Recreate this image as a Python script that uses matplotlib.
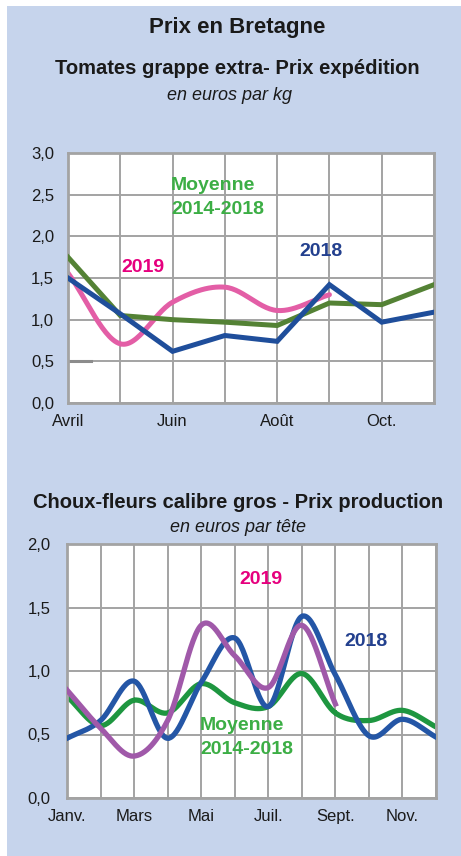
import numpy as np
import matplotlib
matplotlib.use('Agg')
from matplotlib import pyplot as plt
from matplotlib.patches import Rectangle

plt.rcParams['font.family'] = ['Liberation Sans', 'DejaVu Sans']

# Tomates - months avril..novembre
tom_months = ['Avril', '', 'Juin', '', 'Août', '', 'Oct.', '']
tom_moy = [1.75, 1.05, 1.00, 0.97, 0.93, 1.20, 1.18, 1.42]
tom_2018 = [1.50, 1.07, 0.62, 0.81, 0.74, 1.42, 0.97, 1.09]
tom_2019 = [1.56, 0.71, 1.21, 1.39, 1.11, 1.30]

# Choux-fleurs - months janvier..decembre
chou_months = ['Janv.', '', 'Mars', '', 'Mai', '', 'Juil.', '', 'Sept.', '', 'Nov.', '']
chou_moy = [0.80, 0.57, 0.77, 0.67, 0.90, 0.75, 0.72, 0.98, 0.67, 0.61, 0.69, 0.56]
chou_2018 = [0.47, 0.61, 0.92, 0.47, 0.91, 1.26, 0.72, 1.43, 0.97, 0.49, 0.62, 0.48]
chou_2019 = [0.85, 0.55, 0.33, 0.61, 1.36, 1.12, 0.87, 1.36, 0.74]

bg = '#c6d4ec'
grid_col = '#a3a3a3'
W, H = 461, 856


def smooth(y, n=30):
    # Catmull-Rom like Excel smoothed lines
    x = np.arange(len(y), dtype=float)
    y = np.asarray(y, dtype=float)
    px = np.concatenate([[2 * x[0] - x[1]], x, [2 * x[-1] - x[-2]]])
    py = np.concatenate([[2 * y[0] - y[1]], y, [2 * y[-1] - y[-2]]])
    xs, ys = [], []
    t = np.linspace(0, 1, n)
    for i in range(1, len(px) - 2):
        for p, out in ((px, xs), (py, ys)):
            p0, p1, p2, p3 = p[i - 1], p[i], p[i + 1], p[i + 2]
            out.extend(0.5 * ((2 * p1) + (-p0 + p2) * t
                              + (2 * p0 - 5 * p1 + 4 * p2 - p3) * t ** 2
                              + (-p0 + 3 * p1 - 3 * p2 + p3) * t ** 3))
    return np.array(xs), np.array(ys)


def px_axes(fig, left, top, right, bottom):
    return fig.add_axes([left / W, 1 - bottom / H, (right - left) / W, (bottom - top) / H])


def style(ax, months, ymax, ypad):
    ax.set_facecolor('white')
    ax.set_xlim(0, len(months) - 1)
    ax.set_ylim(0, ymax)
    ax.set_xticks(range(len(months)))
    ax.set_xticklabels(months)
    yt = np.arange(0, ymax + 0.01, 0.5)
    ax.set_yticks(yt)
    ax.set_yticklabels(['{:.1f}'.format(v).replace('.', ',') for v in yt])
    ax.tick_params(length=0, labelsize=12, colors='#1a1a1a')
    ax.tick_params(axis='y', pad=ypad)
    ax.tick_params(axis='x', pad=8)
    ax.grid(True, color=grid_col, lw=1.4)
    ax.set_axisbelow(True)
    for s in ax.spines.values():
        s.set_color(grid_col)
        s.set_linewidth(2)


fig = plt.figure(figsize=(W / 100, H / 100), dpi=100)
fig.patch.set_facecolor('white')
fig.patches.append(Rectangle((7 / W, 0), 1 - 7 / W, 1 - 6 / H, transform=fig.transFigure,
                             facecolor=bg, edgecolor='none', zorder=-10))

def ftext(x, y, s, **kw):
    fig.text(x / W, 1 - y / H, s, **kw)

ftext(237, 28, 'Prix en Bretagne', ha='center', va='center', fontsize=16, fontweight='bold', color='#1a1a1a')
ftext(237, 69, 'Tomates grappe extra- Prix expédition', ha='center', va='center', fontsize=14.5,
      fontweight='bold', color='#1a1a1a')
ftext(229, 95, 'en euros par kg', ha='center', va='center', fontsize=13, style='italic', color='#1a1a1a')
ftext(238, 503, 'Choux-fleurs calibre gros - Prix production', ha='center', va='center', fontsize=14.5,
      fontweight='bold', color='#1a1a1a')
ftext(238, 528, 'en euros par tête', ha='center', va='center', fontsize=13, style='italic', color='#1a1a1a')

# top chart
ax1 = px_axes(fig, 68, 153, 434, 403)
style(ax1, tom_months, 3.0, 10)
ax1.axhline(0.5, xmin=0, xmax=0.063, color='#8c8c8c', lw=2.2)
x = np.arange(len(tom_moy))
ax1.plot(x, tom_moy, color='#548235', lw=3.6, solid_joinstyle='miter', zorder=3)
ax1.plot(x, tom_2018, color='#1f4e9b', lw=3.6, solid_joinstyle='miter', zorder=4)
sx, sy = smooth(tom_2019)
ax1.plot(sx, sy, color='#e35ea6', lw=3.6, zorder=2, solid_capstyle='round')

ftext(171, 185, 'Moyenne', ha='left', va='center', fontsize=14, fontweight='bold', color='#3cae45')
ftext(171, 210, '2014-2018', ha='left', va='center', fontsize=14, fontweight='bold', color='#3cae45')
ftext(121, 267, '2019', ha='left', va='center', fontsize=14, fontweight='bold', color='#e6007e')
ftext(299, 252, '2018', ha='left', va='center', fontsize=14, fontweight='bold', color='#23408e')

# bottom chart
ax2 = px_axes(fig, 67, 544, 436, 798)
style(ax2, chou_months, 2.0, 12)
sx, sy = smooth(chou_moy)
ax2.plot(sx, sy, color='#1e9640', lw=3.8, zorder=2)
sx, sy = smooth(chou_2018)
ax2.plot(sx, sy, color='#2456a6', lw=3.8, zorder=3)
sx, sy = smooth(chou_2019)
ax2.plot(sx, sy, color='#a059a9', lw=3.8, zorder=4)

ftext(239, 580, '2019', ha='left', va='center', fontsize=14, fontweight='bold', color='#e6007e')
ftext(344, 641, '2018', ha='left', va='center', fontsize=14, fontweight='bold', color='#23408e')
ftext(200, 725, 'Moyenne', ha='left', va='center', fontsize=14, fontweight='bold', color='#3cae45')
ftext(200, 750, '2014-2018', ha='left', va='center', fontsize=14, fontweight='bold', color='#3cae45')

fig.savefig('out.png', dpi=100, facecolor=fig.get_facecolor())
